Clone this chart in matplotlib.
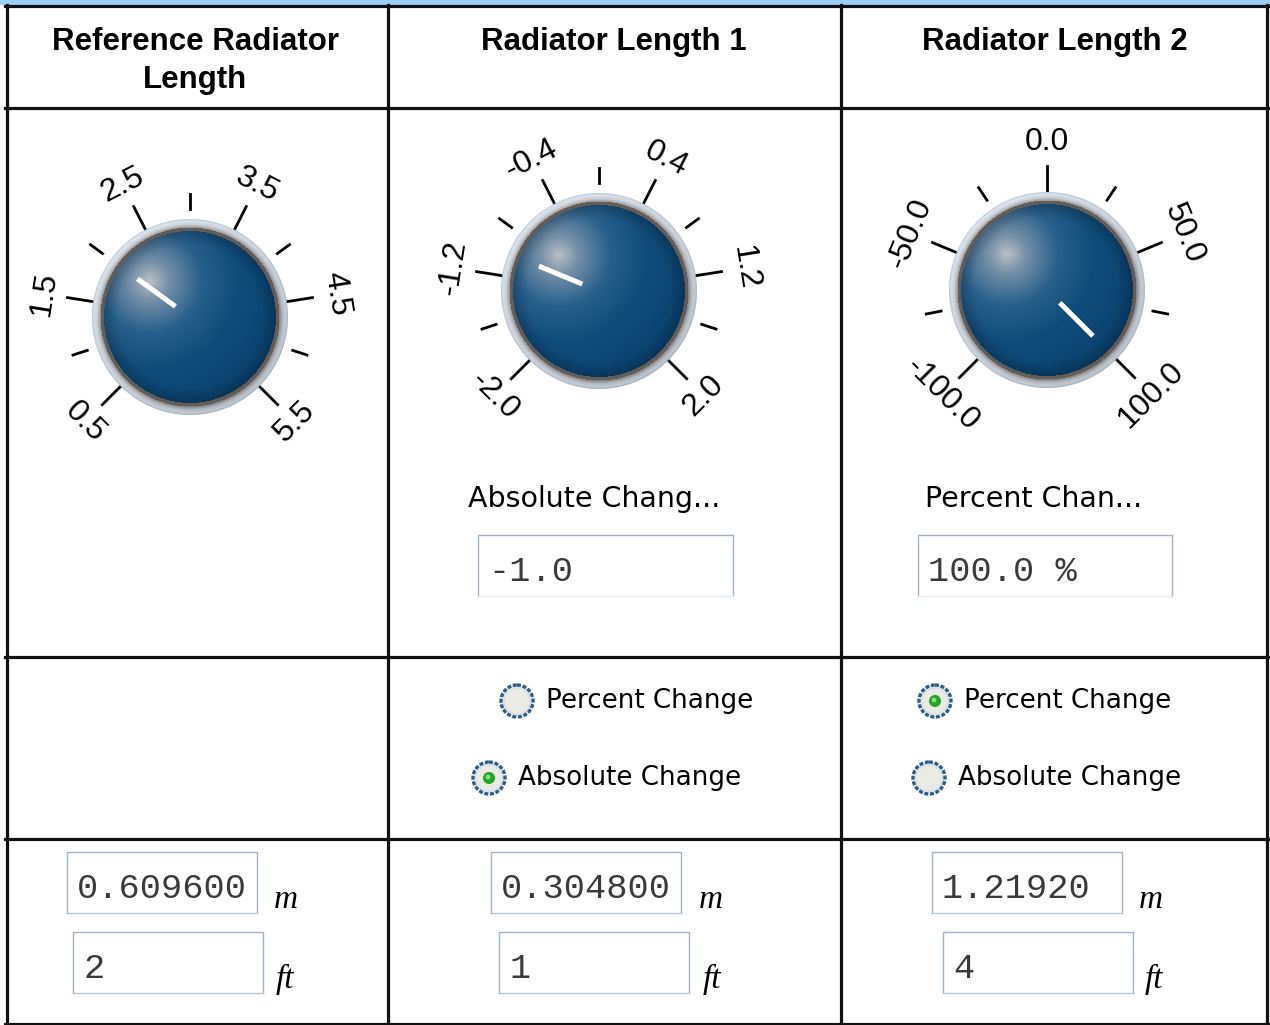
import numpy as np
import matplotlib.pyplot as plt
from matplotlib.patches import Circle, Rectangle

# --- values ---
headers = ["Reference Radiator\nLength", "Radiator Length 1", "Radiator Length 2"]
ref_scale = [0.5, 1.5, 2.5, 3.5, 4.5, 5.5]
abs_scale = [-2.0, -1.2, -0.4, 0.4, 1.2, 2.0]
pct_scale = [-100.0, -50.0, 0.0, 50.0, 100.0]
knob_values = [2.0, -1.0, 100.0]
change_labels = ["Absolute Chang...", "Percent Chan..."]
change_text = ["-1.0", "100.0 %"]
radio_options = ["Percent Change", "Absolute Change"]
radio_selected = ["Absolute Change", "Percent Change"]
length_m = ["0.609600", "0.304800", "1.21920"]
length_ft = ["2", "1", "4"]

fig = plt.figure(figsize=(12.7, 10.25), dpi=100)
ax = fig.add_axes([0, 0, 1, 1])

UI = "DejaVu Sans"
MONO = "Liberation Mono"


def knob_rgba(R=99):
    n = 2 * R
    yy, xx = np.mgrid[0:n, 0:n] + 0.5 - R
    d = np.hypot(xx, yy)
    rgb = np.zeros((n, n, 3))
    # blue sphere, soft grey highlight up-left
    dh = np.hypot(xx + 40, yy + 36)
    t = np.clip(dh / 135, 0, 1)
    stops = [0, 0.14, 0.38, 0.65, 1.0]
    cols = np.array([(186, 192, 198), (118, 144, 168), (40, 96, 140),
                     (16, 76, 122), (10, 66, 112)]) / 255
    for c in range(3):
        rgb[..., c] = np.interp(t, stops, cols[:, c])
    rgb *= (1 - 0.2 * np.clip((d - 72) / 14, 0, 1))[..., None]
    # dark thin ring
    ring = (d > 86) & (d <= 89.5)
    rgb[ring] = np.array([100, 92, 86]) / 255
    # silver bezel
    bez = d > 89.5
    u = np.clip((d - 89.5) / 9, 0, 1)
    a = np.where(d > 0, (-0.6 * xx - 0.8 * yy) / np.maximum(d, 1), 0)
    bcols = np.array([(140, 142, 146), (190, 196, 202), (208, 214, 220), (160, 182, 206)]) / 255
    for c in range(3):
        ch = np.interp(u, [0, 0.35, 0.7, 1], bcols[:, c]) + 0.06 * a
        rgb[..., c] = np.where(bez, np.clip(ch, 0, 1), rgb[..., c])
    alpha = np.clip(98.5 - d, 0, 1)
    return np.dstack([rgb, alpha])


KNOB = knob_rgba()


def draw_knob(cx, cy, scale, value):
    vmin, vmax = scale[0], scale[-1]

    def th(v):
        return np.radians(-135 + 270 * (v - vmin) / (vmax - vmin))

    R = KNOB.shape[0] / 2
    ax.imshow(KNOB, extent=(cx - R, cx + R, cy + R, cy - R), zorder=2, interpolation="bilinear")
    for v in scale:
        a = th(v)
        ax.plot([cx + 97 * np.sin(a), cx + 124 * np.sin(a)],
                [cy - 97 * np.cos(a), cy - 124 * np.cos(a)], color="black", lw=2.0, zorder=1)
        deg = -np.degrees(a)
        rot = deg if abs(deg) <= 90 else deg + 180 if deg < 0 else deg - 180
        ax.text(cx + 148 * np.sin(a), cy - 148 * np.cos(a), "%.1f" % v, fontsize=23,
                family="Liberation Sans", rotation=rot, rotation_mode="anchor",
                ha="center", va="center")
    for v0, v1 in zip(scale[:-1], scale[1:]):
        a = th((v0 + v1) / 2)
        ax.plot([cx + 108 * np.sin(a), cx + 123 * np.sin(a)],
                [cy - 108 * np.cos(a), cy - 123 * np.cos(a)], color="black", lw=2.0, zorder=1)
    a = th(value)
    ax.plot([cx + 18 * np.sin(a), cx + 65 * np.sin(a)],
            [cy - 18 * np.cos(a), cy - 65 * np.cos(a)], color="white", lw=3.6,
            solid_capstyle="butt", zorder=3)


def text_box(x0, y0, x1, y1, txt, faint_bottom=False):
    edge = "#9fb3c8"
    ax.plot([x0, x0, x1, x1], [y1, y0, y0, y1], color=edge, lw=1.0, zorder=2)
    ax.plot([x0, x1], [y1, y1], color="#e6ecf2" if faint_bottom else "#b8c6d4", lw=1.0, zorder=2)
    ax.text(x0 + 10, (y0 + y1) / 2 + 6, txt, family=MONO, fontsize=25.5, color="#3a3a3a",
            ha="left", va="center")


def radio(cx, cy, selected):
    ax.add_patch(Circle((cx, cy), 16, facecolor="#ebebe6", edgecolor="#2b5d8d", lw=2.4,
                        linestyle=(0, (1.2, 0.5)), zorder=3))
    ax.add_patch(Circle((cx, cy), 13, facecolor="none", edgecolor="#d4dbe2", lw=0.8, zorder=3))
    if selected:
        ax.add_patch(Circle((cx, cy), 6, facecolor="#24a324", edgecolor="none", zorder=4))
        ax.add_patch(Circle((cx - 1, cy - 1), 2.4, facecolor="#8adf8a", edgecolor="none", zorder=4))


# table frame
ax.add_patch(Rectangle((0, 0), 1270, 5, facecolor="#9dcdfb", edgecolor="none"))
for x in [6.5, 388, 841, 1266.5]:
    ax.plot([x, x], [5, 1025], color="#111111", lw=2.3, zorder=5)
for y in [6, 107.5, 656.5, 838.5, 1023.5]:
    ax.plot([5, 1268], [y, y], color="#111111", lw=2.3, zorder=5)

# headers
header_x = [195, 614, 1055]
ax.text(header_x[0], 61, headers[0], fontsize=22.5, weight="bold", family="Liberation Sans",
        ha="center", va="center", linespacing=1.32)
for hx, h in zip(header_x[1:], headers[1:]):
    ax.text(hx, 42, h, fontsize=22.5, weight="bold", family="Liberation Sans",
            ha="center", va="center")

# knobs
knob_xy = [(190, 317), (599, 291), (1047, 290)]
for (cx, cy), sc, v in zip(knob_xy, [ref_scale, abs_scale, pct_scale], knob_values):
    draw_knob(cx, cy, sc, v)

# change fields
ax.text(468, 499, change_labels[0], family=UI, fontsize=20.5, ha="left", va="center")
ax.text(925, 499, change_labels[1], family=UI, fontsize=20.5, ha="left", va="center")
text_box(478, 535, 733, 596, change_text[0], faint_bottom=True)
text_box(918, 535, 1172, 596, change_text[1], faint_bottom=True)

# radio buttons
radio_xy = [[(517, 701), (489, 778)], [(935, 701), (929, 778)]]
for col, sel in zip(radio_xy, radio_selected):
    for (rx, ry), opt in zip(col, radio_options):
        radio(rx, ry, opt == sel)
        ax.text(rx + 29, ry, opt, family=UI, fontsize=18.8, ha="left", va="center")

# unit fields
m_box_x = [67, 491, 932]
ft_box_x = [73, 499, 943]
m_lbl_x = [274, 699, 1139]
ft_lbl_x = [276, 703, 1145]
for i in range(3):
    text_box(m_box_x[i], 852, m_box_x[i] + 190, 913, length_m[i])
    text_box(ft_box_x[i], 932, ft_box_x[i] + 190, 993, length_ft[i])
    ax.text(m_lbl_x[i], 908, "m", family="Liberation Serif", style="italic", fontsize=24,
            ha="left", va="baseline")
    ax.text(ft_lbl_x[i], 988, "ft", family="Liberation Serif", style="italic", fontsize=24,
            ha="left", va="baseline")

ax.set_xlim(0, 1270)
ax.set_ylim(1025, 0)
ax.set_aspect("auto")
ax.axis("off")
fig.savefig("out.png", dpi=100)
